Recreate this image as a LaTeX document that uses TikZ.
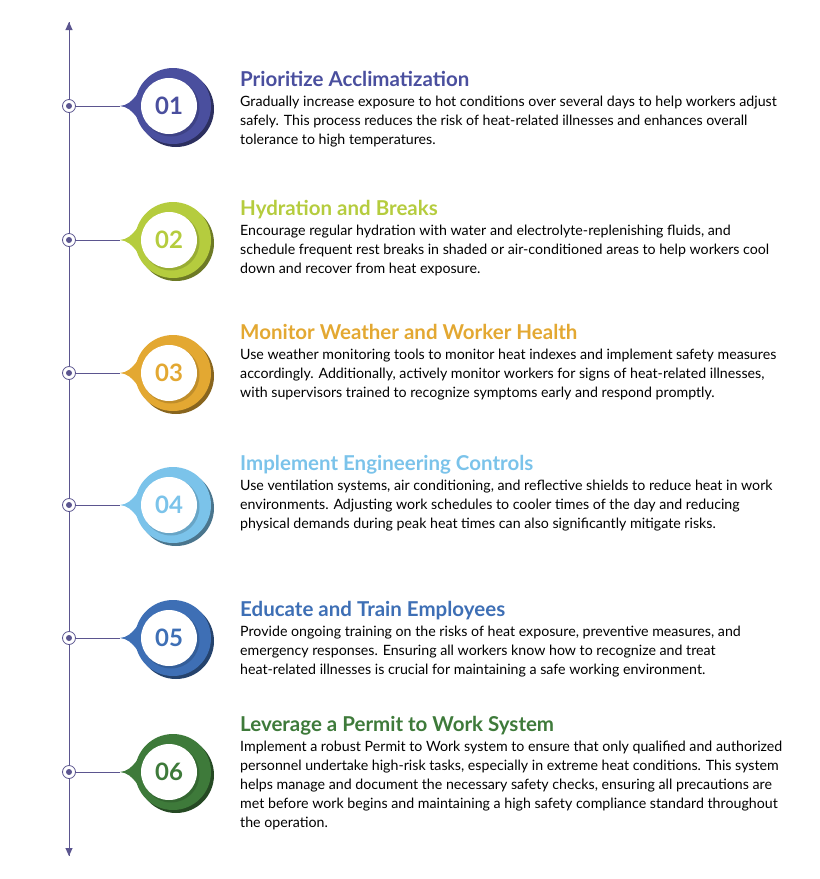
\documentclass[tikz,border=0pt]{standalone}
\usepackage{fontspec}
\setmainfont{Lato}
\usetikzlibrary{arrows.meta,positioning,calc}
\definecolor{line_purple}{HTML}{5B558F}
\definecolor{step_a}{HTML}{4A4F9E}
\definecolor{step_b}{HTML}{B5CC3E}
\definecolor{step_c}{HTML}{E3A832}
\definecolor{step_d}{HTML}{7BC3EA}
\definecolor{step_e}{HTML}{3E6FB5}
\definecolor{step_f}{HTML}{3E7A3A}

\begin{document}
\begin{tikzpicture}[
        x=1pt, y=-1pt,
        title/.style={anchor=base west, inner sep=0, font=\bfseries\fontsize{20.5}{24}\selectfont},
        body/.style={anchor=north west, inner sep=0, align=left, font=\fontsize{14.2}{19}\selectfont},
        number/.style={font=\bfseries\fontsize{24}{26}\selectfont},
        marker/.style={circle, draw=line_purple, fill=white, line width=0.8pt, minimum size=13pt, inner sep=0},
        timeline/.style={line_purple, line width=0.9pt},
    ]
    \useasboundingbox (0,0) rectangle (820,879);

    % ------------ timeline
    \coordinate (top) at (69,22);
    \coordinate (bottom) at (69,856);
    \draw [timeline, -{Triangle[length=8pt,width=7pt]}] (bottom) -- (top);
    \draw [timeline, -{Triangle[length=8pt,width=7pt]}] (top) -- (bottom);

    % ------------ steps
    \foreach \i/\y/\c/\ty/\num/\head/\text in {
        1/106/step_a/86/01/{Prioritize Acclimatization}/{Gradually increase exposure to hot conditions over several days to help workers adjust\\safely. This process reduces the risk of heat-related illnesses and enhances overall\\tolerance to high temperatures.},
        2/240/step_b/215/02/{Hydration and Breaks}/{Encourage regular hydration with water and electrolyte-replenishing fluids, and\\schedule frequent rest breaks in shaded or air-conditioned areas to help workers cool\\down and recover from heat exposure.},
        3/373/step_c/339/03/{Monitor Weather and Worker Health}/{Use weather monitoring tools to monitor heat indexes and implement safety measures\\accordingly. Additionally, actively monitor workers for signs of heat-related illnesses,\\with supervisors trained to recognize symptoms early and respond promptly.},
        4/505/step_d/470/04/{Implement Engineering Controls}/{Use ventilation systems, air conditioning, and reflective shields to reduce heat in work\\environments. Adjusting work schedules to cooler times of the day and reducing\\physical demands during peak heat times can also significantly mitigate risks.},
        5/638/step_e/616/05/{Educate and Train Employees}/{Provide ongoing training on the risks of heat exposure, preventive measures, and\\emergency responses. Ensuring all workers know how to recognize and treat\\heat-related illnesses is crucial for maintaining a safe working environment.},
        6/772/step_f/731/06/{Leverage a Permit to Work System}/{Implement a robust Permit to Work system to ensure that only qualified and authorized\\personnel undertake high-risk tasks, especially in extreme heat conditions. This system\\helps manage and document the necessary safety checks, ensuring all precautions are\\met before work begins and maintaining a high safety compliance standard throughout\\the operation.}} {
        \node [marker] (mark\i) at (69,\y) {};
        \fill [line_purple] (mark\i) circle (3pt);
        \coordinate (tip\i) at (120,\y);
        \draw [timeline] (mark\i.east) -- (tip\i);
        % badge
        \fill [\c!60!black] (176,\y+3) circle (38);
        \fill [\c] (173,\y) circle (38);
        \fill [\c] (tip\i) .. controls (134,\y-1) and (140,\y-18) .. (150,\y-30) -- (150,\y+30) .. controls (140,\y+18) and (134,\y+1) .. (tip\i);
        \fill [\c!70!black, opacity=0.5] (171,\y+2) circle (28.5);
        \node [circle, fill=white, minimum size=56pt, inner sep=0, number, text=\c] (badge\i) at (169,\y) {\num};
        % texts
        \node [title, text=\c] (head\i) at (240,\ty) {\head};
        \node [body, below=10pt of head\i.base west, anchor=north west] (text\i) {\text};
    }
\end{tikzpicture}
\end{document}
